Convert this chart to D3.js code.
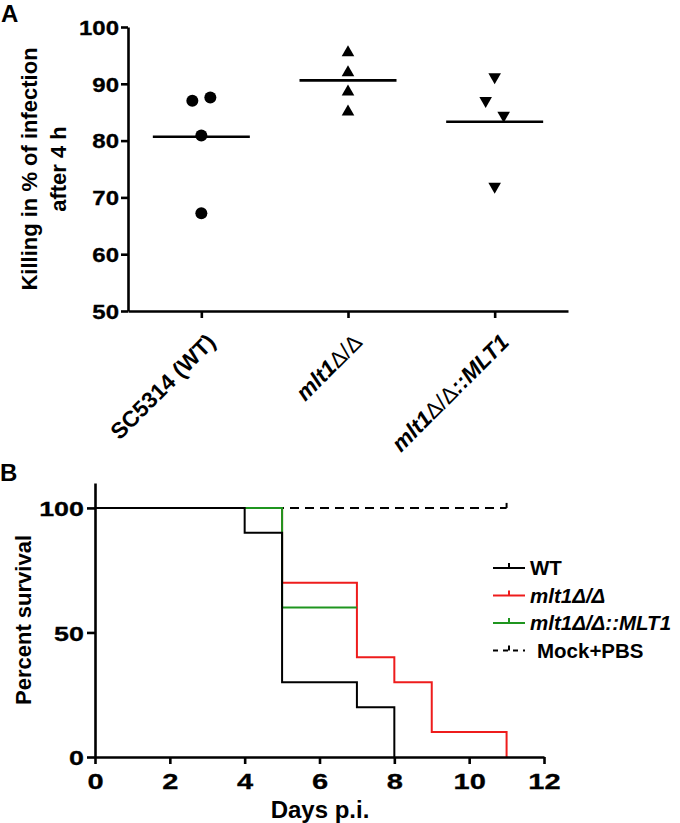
<!DOCTYPE html>
<html><head><meta charset="utf-8">
<script src="https://cdn.jsdelivr.net/npm/d3@7"></script>
<style>
body{margin:0;background:#fff;}
text{font-family:"Liberation Sans",Arial,sans-serif;font-weight:bold;fill:#000;}
</style></head><body>
<svg id="c" width="680" height="823"></svg>
<script>
// ---------- Panel A data ----------
const categoriesA = ["SC5314 (WT)", "mlt1Δ/Δ", "mlt1Δ/Δ::MLT1"];
const killingWT = [87.0, 87.6, 80.9, 67.2];
const killingMlt1 = [95.8, 92.3, 88.9, 85.4];
const killingRevertant = [90.9, 86.7, 84.1, 71.6];
const yTicksA = [50, 60, 70, 80, 90, 100];
const yTitleA = ["Killing in % of infection", "after 4 h"];

// ---------- Panel B data ----------
const survivalLabels = ["WT", "mlt1Δ/Δ", "mlt1Δ/Δ::MLT1", "Mock+PBS"];
const wtDays = [0, 4, 5, 7, 8];        const wtSurv = [100, 90, 30, 20, 0];
const mlt1Days = [0, 5, 7, 8, 9, 11];  const mlt1Surv = [100, 70, 40, 30, 10, 0];
const revDays = [0, 5, 7];             const revSurv = [100, 60, 60];
const mockDays = [0, 11];              const mockSurv = [100, 100];
const xTicksB = [0, 2, 4, 6, 8, 10, 12];
const yTicksB = [0, 50, 100];

const svg = d3.select("#c");
svg.append("rect").attr("width", 680).attr("height", 823).attr("fill", "#fff");

function styleAxis(g, sw) {
  g.selectAll("path.domain").attr("stroke", "#000").attr("stroke-width", sw);
  g.selectAll(".tick line").attr("stroke", "#000").attr("stroke-width", sw);
}

// ================= PANEL A =================
const A = svg.append("g");
A.append("text").attr("x", 1).attr("y", 22).attr("font-size", 24).text("A");

const xA = d3.scalePoint().domain(categoriesA).range([128, 568]).padding(0.5);
const yA = d3.scaleLinear().domain([50, 100]).range([311, 27]);

const yAxA = A.append("g").attr("transform", "translate(128,0)")
  .call(d3.axisLeft(yA).tickValues(yTicksA).tickSize(7).tickSizeOuter(0));
styleAxis(yAxA, 2.6);
yAxA.selectAll(".tick text").attr("x", 0).attr("dy", "0.36em")
  .attr("font-size", 20).attr("font-family", null)
  .attr("stroke", "#000").attr("stroke-width", 0.3)
  .attr("transform", "translate(-9,0) scale(1.2,1)");

const xAxA = A.append("g").attr("transform", "translate(0,311)")
  .call(d3.axisBottom(xA).tickSize(7).tickSizeOuter(0));
styleAxis(xAxA, 2.6);
xAxA.selectAll(".tick text").remove();

function addLabel(sel, label) {
  const parts = label.split(/(Δ\/Δ)/).filter(s => s.length);
  const gene = label.startsWith("mlt1");
  parts.forEach(p => {
    const t = sel.append("tspan").text(p);
    if (p === "Δ/Δ") t.attr("font-weight", "normal").attr("font-style", "normal");
    else if (gene) t.attr("font-style", "italic");
  });
}
categoriesA.forEach(c => {
  const t = A.append("text")
    .attr("transform", `translate(${xA(c) + 10},338) rotate(-45)`)
    .attr("text-anchor", "end").attr("dy", "0.35em").attr("font-size", 22.5);
  addLabel(t, c);
});

const yt = A.append("text").attr("transform", "translate(0,169) rotate(-90)")
  .attr("text-anchor", "middle").attr("font-size", 22);
yt.append("tspan").attr("x", 0).attr("y", 37).text(yTitleA[0]);
yt.append("tspan").attr("x", 0).attr("y", 66).text(yTitleA[1]);

function swarmOffsets(values, thresh, step) {
  const idx = values.map((v, i) => i).sort((a, b) => values[a] - values[b]);
  const off = new Array(values.length).fill(0);
  let cluster = [idx[0]];
  const flush = () => {
    const c = cluster.slice().sort((a, b) => a - b);
    c.forEach((k, j) => off[k] = (j - (c.length - 1) / 2) * step);
  };
  for (let i = 1; i < idx.length; i++) {
    if (values[idx[i]] - values[idx[i - 1]] < thresh) cluster.push(idx[i]);
    else { flush(); cluster = [idx[i]]; }
  }
  flush();
  return off;
}

const groupsA = [
  { cat: categoriesA[0], vals: killingWT, shape: "circle" },
  { cat: categoriesA[1], vals: killingMlt1, shape: "up" },
  { cat: categoriesA[2], vals: killingRevertant, shape: "down" }
];
const shapes = {
  circle: d3.symbol().type(d3.symbolCircle).size(Math.PI * 36)(),
  up: "M0,-5.5L6.3,5.5L-6.3,5.5Z",
  down: "M0,5.5L6.3,-5.5L-6.3,-5.5Z"
};
groupsA.forEach(g => {
  const off = swarmOffsets(g.vals, 3, 18);
  const cx = xA(g.cat);
  A.append("g").selectAll("path").data(g.vals).join("path")
    .attr("d", shapes[g.shape]).attr("fill", "#000")
    .attr("transform", (d, i) => `translate(${cx + off[i]},${yA(d)})`);
  const m = d3.mean(g.vals);
  A.append("line").attr("x1", cx - 48.5).attr("x2", cx + 48.5)
    .attr("y1", yA(m)).attr("y2", yA(m)).attr("stroke", "#000").attr("stroke-width", 2.6);
});

// ================= PANEL B =================
const B = svg.append("g");
B.append("text").attr("x", 0).attr("y", 481).attr("font-size", 24).text("B");

const xB = d3.scaleLinear().domain([0, 12]).range([95, 544]);
const yB = d3.scaleLinear().domain([0, 110]).range([757, 483]);

const series = [
  { name: survivalLabels[3], days: mockDays, surv: mockSurv, color: "#000", dash: "9,6", censor: true },
  { name: survivalLabels[1], days: mlt1Days, surv: mlt1Surv, color: "#ee1c1c", dash: null },
  { name: survivalLabels[2], days: revDays, surv: revSurv, color: "#1f951f", dash: null },
  { name: survivalLabels[0], days: wtDays, surv: wtSurv, color: "#000", dash: null }
];
const line = d3.line().x(d => xB(d[0])).y(d => yB(d[1])).curve(d3.curveStepAfter);
series.forEach(s => {
  const pts = s.days.map((d, i) => [d, s.surv[i]]);
  B.append("path").attr("d", line(pts)).attr("fill", "none")
    .attr("stroke", s.color).attr("stroke-width", 2)
    .attr("stroke-dasharray", s.dash);
  if (s.censor) {
    const last = pts[pts.length - 1];
    B.append("line").attr("x1", xB(last[0])).attr("x2", xB(last[0]))
      .attr("y1", yB(last[1])).attr("y2", yB(last[1]) - 5)
      .attr("stroke", s.color).attr("stroke-width", 2);
  }
});

const yAxB = B.append("g").attr("transform", "translate(95,0)")
  .call(d3.axisLeft(yB).tickValues(yTicksB).tickSize(8).tickSizeOuter(0));
styleAxis(yAxB, 2.6);
yAxB.selectAll(".tick text").attr("x", 0).attr("dy", "0.36em")
  .attr("font-size", 21).attr("font-family", null)
  .attr("stroke", "#000").attr("stroke-width", 0.3)
  .attr("transform", "translate(-11,0) scale(1.28,1)");

const xAxB = B.append("g").attr("transform", "translate(0,757)")
  .call(d3.axisBottom(xB).tickValues(xTicksB).tickSize(7).tickSizeOuter(0));
styleAxis(xAxB, 2.6);
xAxB.selectAll(".tick text").attr("y", 0).attr("dy", 0)
  .attr("font-size", 22).attr("font-family", null)
  .attr("stroke", "#000").attr("stroke-width", 0.3)
  .attr("transform", "translate(0,32) scale(1.32,1)");

B.append("text").attr("x", 320).attr("y", 818).attr("text-anchor", "middle")
  .attr("font-size", 24).text("Days p.i.");
B.append("text").attr("transform", "translate(31,620) rotate(-90)")
  .attr("text-anchor", "middle").attr("font-size", 22).text("Percent survival");

// legend
const legendOrder = [series[3], series[1], series[2], series[0]];
legendOrder.forEach((s, i) => {
  const y = 568 + i * 27.5;
  const lg = B.append("g");
  lg.append("line").attr("x1", 493).attr("x2", 525).attr("y1", y).attr("y2", y)
    .attr("stroke", s.color).attr("stroke-width", 2)
    .attr("stroke-dasharray", s.dash ? "5,5" : null);
  lg.append("line").attr("x1", 509).attr("x2", 509).attr("y1", y).attr("y2", y - 5)
    .attr("stroke", s.color).attr("stroke-width", 2);
  const t = lg.append("text").attr("x", s.dash ? 537 : 530).attr("y", y).attr("dy", "0.36em")
    .attr("font-size", 20.5);
  const gene = s.name.startsWith("mlt1");
  const ts = t.append("tspan").text(s.name);
  if (gene) ts.attr("font-style", "italic");
});
</script>
</body></html>
